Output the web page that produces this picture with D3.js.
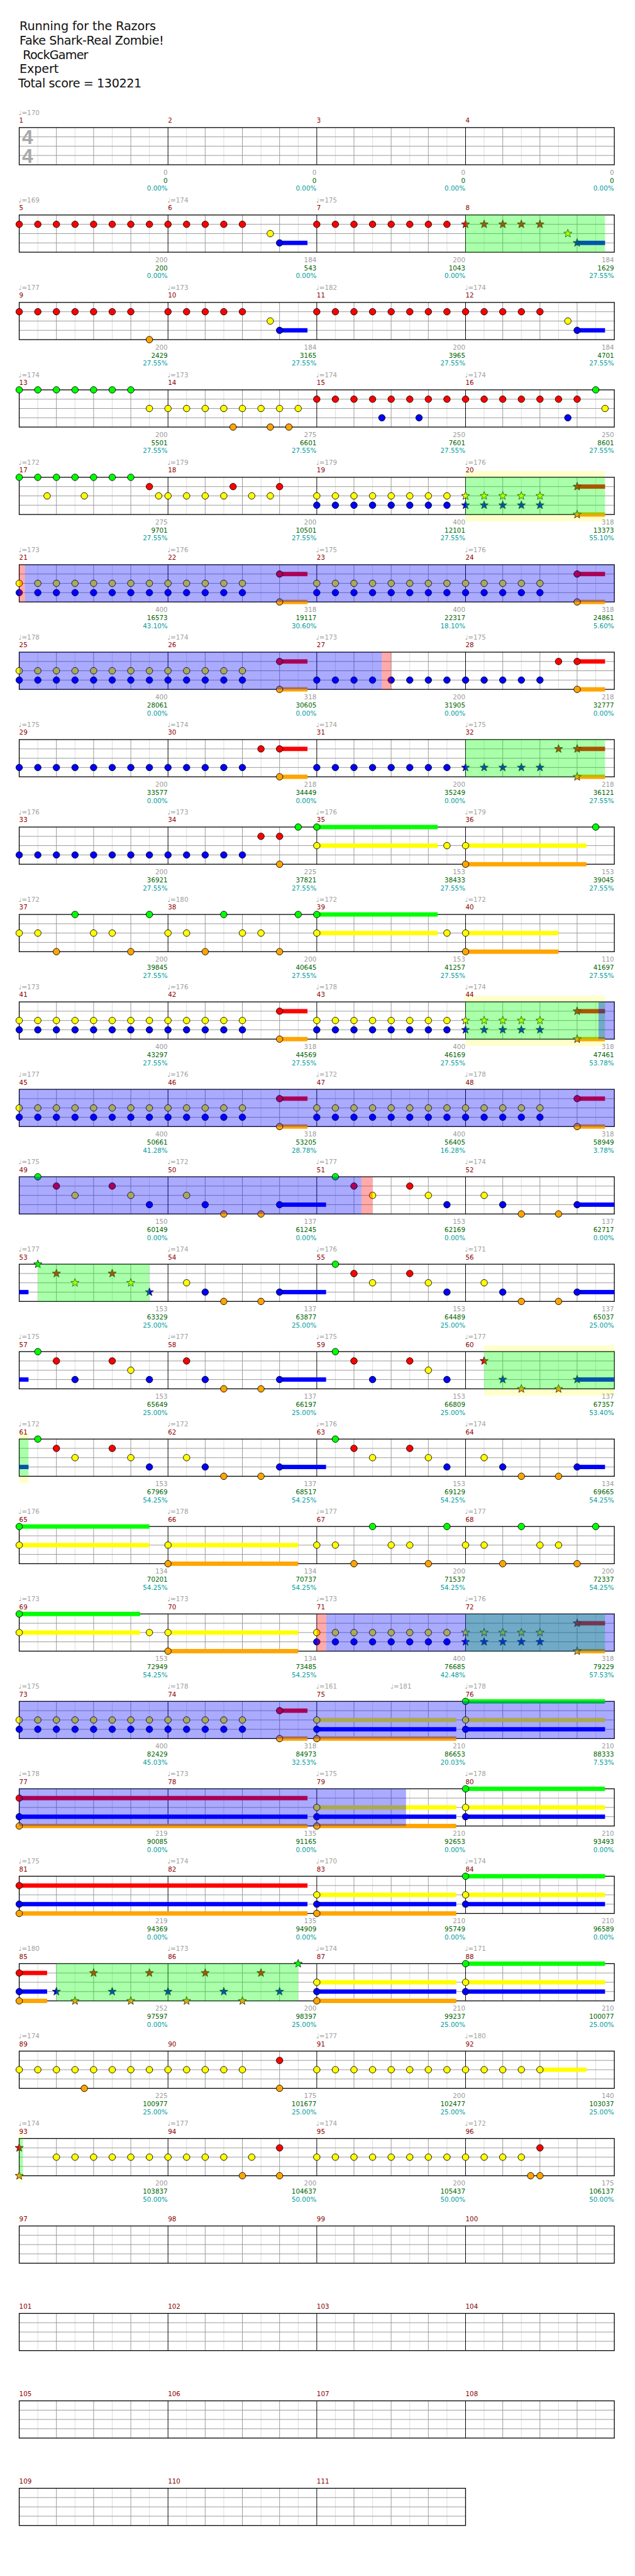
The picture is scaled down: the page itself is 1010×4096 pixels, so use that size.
<!DOCTYPE html>
<html><head><meta charset="utf-8">
<script src="https://cdn.jsdelivr.net/npm/d3@7"></script>
<style>body{margin:0;background:#fff} text{white-space:pre}</style>
</head><body><svg id="c"></svg>
<script>
const titleLines = ["Running for the Razors", "Fake Shark-Real Zombie!", " RockGamer", "Expert", "Total score = 130221"];
const titleWidths = [220, 233, 111, 63, 199];
const timeSig = ["4", "4"];

const tempos = [170,null,null,null, 169,174,175,null, 177,173,182,174, 174,173,174,174,
  172,179,179,176, 173,176,175,176, 178,174,173,175, 175,174,174,175, 176,173,176,179,
  172,180,172,172, 173,176,178,174, 177,176,172,178, 175,172,177,174, 177,174,176,171,
  175,177,175,177, 172,172,176,174, 176,178,177,177, 173,173,173,176, 175,178,161,178,
  178,173,175,178, 175,174,170,174, 180,173,174,171, 174,null,177,180, 174,177,174,172,
  null,null,null,null, null,null,null,null, null,null,null,null, null,null,null];
const extraTempos = [[75, 4, 181]];

const measureScores = [0,0,0,0, 200,184,200,184, 200,184,200,184, 200,275,250,250,
  275,200,400,318, 400,318,400,318, 400,318,200,218, 200,218,200,218, 200,225,153,153,
  200,200,153,110, 400,318,400,318, 400,318,400,318, 150,137,153,137, 153,137,153,137,
  153,137,153,137, 153,137,153,134, 134,134,200,200, 153,134,400,318, 400,318,210,210,
  219,135,210,210, 219,135,210,210, 252,200,210,210, 225,175,200,140, 200,200,200,175,
  "","","","", "","","","", "","","","", "","",""];
const totalScores = [0,0,0,0, 200,543,1043,1629, 2429,3165,3965,4701, 5501,6601,7601,8601,
  9701,10501,12101,13373, 16573,19117,22317,24861, 28061,30605,31905,32777, 33577,34449,35249,36121,
  36921,37821,38433,39045, 39845,40645,41257,41697, 43297,44569,46169,47461, 50661,53205,56405,58949,
  60149,61245,62169,62717, 63329,63877,64489,65037, 65649,66197,66809,67357, 67969,68517,69129,69665,
  70201,70737,71537,72337, 72949,73485,76685,79229, 82429,84973,86653,88333, 90085,91165,92653,93493,
  94369,94909,95749,96589, 97597,98397,99237,100077, 100977,101677,102477,103037, 103837,104637,105437,106137,
  "","","","", "","","","", "","","","", "","",""];
const percents = ["0.00","0.00","0.00","0.00", "0.00","0.00","0.00","27.55", "27.55","27.55","27.55","27.55",
  "27.55","27.55","27.55","27.55", "27.55","27.55","27.55","55.10", "43.10","30.60","18.10","5.60",
  "0.00","0.00","0.00","0.00", "0.00","0.00","0.00","27.55", "27.55","27.55","27.55","27.55",
  "27.55","27.55","27.55","27.55", "27.55","27.55","27.55","53.78", "41.28","28.78","16.28","3.78",
  "0.00","0.00","0.00","0.00", "25.00","25.00","25.00","25.00", "25.00","25.00","25.00","53.40",
  "54.25","54.25","54.25","54.25", "54.25","54.25","54.25","54.25", "54.25","54.25","42.48","57.53",
  "45.03","32.53","20.03","7.53", "0.00","0.00","0.00","0.00", "0.00","0.00","0.00","0.00",
  "0.00","25.00","25.00","25.00", "25.00","25.00","25.00","25.00", "50.00","50.00","50.00","50.00",
  "","","","", "","","","", "","","","", "","",""];

// notes per measure: "position(eighths):lanes[:sustain length in eighths]"
const chart = [
  "", "", "", "",
  "0:R 1:R 2:R 3:R 4:R 5:R 6:R 7:R", "0:R 1:R 2:R 3:R 4:R 5.5:Y 6:B:1.5",
  "0:R 1:R 2:R 3:R 4:R 5:R 6:R 7:R", "0:R 1:R 2:R 3:R 4:R 5.5:Y 6:B:1.5",
  "0:R 1:R 2:R 3:R 4:R 5:R 6:R 7:O", "0:R 1:R 2:R 3:R 4:R 5.5:Y 6:B:1.5",
  "0:R 1:R 2:R 3:R 4:R 5:R 6:R 7:R", "0:R 1:R 2:R 3:R 4:R 5.5:Y 6:B:1.5",
  "0:G 1:G 2:G 3:G 4:G 5:G 6:G 7:Y", "0:Y 1:Y 2:Y 3:Y 3.5:O 4:Y 5:Y 5.5:O 6:Y 6.5:O 7:Y",
  "0:R 1:R 2:R 3:R 3.5:B 4:R 5:R 5.5:B 6:R 7:R", "0:R 1:R 2:R 3:R 4:R 5:R 5.5:B 6:R 7:G 7.5:Y",
  "0:G 1:G 1.5:Y 2:G 3:G 3.5:Y 4:G 5:G 6:G 7:R 7.5:Y", "0:Y 1:Y 2:Y 3:Y 3.5:R 4.5:Y 5.5:Y 6:R",
  "0:YB 1:YB 2:YB 3:YB 4:YB 5:YB 6:YB 7:YB", "0:YB 1:YB 2:YB 3:YB 4:YB 6:RO:1.5",
  "0:YB 1:YB 2:YB 3:YB 4:YB 5:YB 6:YB 7:YB", "0:YB 1:YB 2:YB 3:YB 4:YB 6:RO:1.5",
  "0:YB 1:YB 2:YB 3:YB 4:YB 5:YB 6:YB 7:YB", "0:YB 1:YB 2:YB 3:YB 4:YB 6:RO:1.5",
  "0:YB 1:YB 2:YB 3:YB 4:YB 5:YB 6:YB 7:YB", "0:YB 1:YB 2:YB 3:YB 4:YB 6:RO:1.5",
  "0:B 1:B 2:B 3:B 4:B 5:B 6:B 7:B", "0:B 1:B 2:B 3:B 4:B 5:R 6:RO:1.5",
  "0:B 1:B 2:B 3:B 4:B 5:B 6:B 7:B", "0:B 1:B 2:B 3:B 4:B 5:R 6:RO:1.5",
  "0:B 1:B 2:B 3:B 4:B 5:B 6:B 7:B", "0:B 1:B 2:B 3:B 4:B 5:R 6:RO:1.5",
  "0:B 1:B 2:B 3:B 4:B 5:B 6:B 7:B", "0:B 1:B 2:B 3:B 4:B 5:R 6:RO 7:G",
  "0:GY:6.5 7:Y", "0:YO:6.5 7:G",
  "0:Y 1:Y 2:O 3:G 4:Y 5:Y 6:O 7:G", "0:Y 1:Y 2:O 3:G 4:Y 5:Y 6:O 7:G",
  "0:GY:6.5 7:Y", "0:YO:5",
  "0:YB 1:YB 2:YB 3:YB 4:YB 5:YB 6:YB 7:YB", "0:YB 1:YB 2:YB 3:YB 4:YB 6:RO:1.5",
  "0:YB 1:YB 2:YB 3:YB 4:YB 5:YB 6:YB 7:YB", "0:YB 1:YB 2:YB 3:YB 4:YB 6:RO:1.5",
  "0:YB 1:YB 2:YB 3:YB 4:YB 5:YB 6:YB 7:YB", "0:YB 1:YB 2:YB 3:YB 4:YB 6:RO:1.5",
  "0:YB 1:YB 2:YB 3:YB 4:YB 5:YB 6:YB 7:YB", "0:YB 1:YB 2:YB 3:YB 4:YB 6:RO:1.5",
  "1:G 2:R 3:Y 5:R 6:Y 7:B", "1:Y 2:B 3:O 5:O 6:B:2.5",
  "1:G 2:R 3:Y 5:R 6:Y 7:B", "1:Y 2:B 3:O 5:O 6:B:2.5",
  "1:G 2:R 3:Y 5:R 6:Y 7:B", "1:Y 2:B 3:O 5:O 6:B:2.5",
  "1:G 2:R 3:Y 5:R 6:Y 7:B", "1:Y 2:B 3:O 5:O 6:B:2.5",
  "1:G 2:R 3:B 5:R 6:Y 7:B", "1:R 2:B 3:O 5:O 6:B:2.5",
  "1:G 2:R 3:B 5:R 6:Y 7:B", "1:R 2:B 3:O 5:O 6:B:2.5",
  "1:G 2:R 3:Y 5:R 6:Y 7:B", "1:Y 2:B 3:O 5:O 6:B:2.5",
  "1:G 2:R 3:Y 5:R 6:Y 7:B", "1:Y 2:B 3:O 5:O 6:B:1.5",
  "0:GY:7", "0:YO:7",
  "0:Y 1:Y 2:O 3:G 4:Y 5:Y 6:O 7:G", "0:Y 1:Y 2:O 3:G 4:Y 5:Y 6:O 7:G",
  "0:GY:6.5 7:Y", "0:YO:7",
  "0:YB 1:YB 2:YB 3:YB 4:YB 5:YB 6:YB 7:YB", "0:YB 1:YB 2:YB 3:YB 4:YB 6:RO:1.5",
  "0:YB 1:YB 2:YB 3:YB 4:YB 5:YB 6:YB 7:YB", "0:YB 1:YB 2:YB 3:YB 4:YB 6:RO:1.5",
  "0:YBO:7.5", "0:GYB:7.5",
  "0:RBO:15.5", "",
  "0:YBO:7.5", "0:GYB:7.5",
  "0:RBO:15.5", "",
  "0:YBO:7.5", "0:GYB:7.5",
  "0:RBO:1.5 2:B 3:O 4:R 5:B 6:O 7:R", "0:B 1:O 2:R 3:B 4:O 5:R 6:B 7:G",
  "0:YBO:7.5", "0:GYB:7.5",
  "0:Y 1:Y 2:Y 3:Y 3.5:O 4:Y 5:Y 6:Y 7:Y", "0:Y 1:Y 2:Y 3:Y 4:Y 6:RO",
  "0:Y 1:Y 2:Y 3:Y 4:Y 5:Y 6:Y 7:Y", "0:Y 1:Y 2:Y 3:Y 4:Y:2.5",
  "0:RO 2:Y 3:Y 4:Y 5:Y 6:Y 7:Y", "0:Y 1:Y 2:Y 3:Y 4:O 4.5:Y 6:RO",
  "0:Y 1:Y 2:Y 3:Y 4:Y 5:Y 6:Y 7:Y", "0:Y 1:Y 2:Y 3:Y 3.5:O 4:RO",
  "", "", "", "", "", "", "", "", "", "", "", "", "", "", ""
];

// [startMeasure, startPos, endMeasure, endPos]
const starPhrases = [[8,0,8,7.5],[20,0,20,7.5],[32,0,32,7.5],[44,0,44,7.5],[53,1,53,7],
  [60,1,61,0.5],[72,0,72,7.5],[85,2,86,7],[93,0,93,0.2]];
const glowZones = [[20,0,20,7.5],[44,0,44,7.5],[60,1,61,0.5],[93,0,93,0.2]];
const activations = [[21,0.3,27,3.5],[44,7.15,51,2.4],[71,0.5,79,4.8]];
const redZones = [[21,0,21,0.3],[27,3.5,27,4],[51,2.4,51,3],[71,0,71,0.5]];

const laneColors = {G:"#00ff00", R:"#ff0000", Y:"#ffff00", B:"#0000ff", O:"#ffa500"};
const nMeasures = chart.length;
const nRows = Math.ceil(nMeasures / 4);

const svg = d3.select("#c").attr("width", 1010).attr("height", 4096);
const root = svg.append("g").attr("transform", "scale(0.986)");

const rowTop = d3.scaleLinear().domain([0, 1]).range([205.7, 346.7]);
const xIn = d3.scaleLinear().domain([0, 32]).range([31, 991]);
const laneY = d3.scalePoint().domain(["G","R","Y","B","O"]).range([0, 60]);

const gpos = (m, p) => (m - 1) * 8 + p;
function rowMeasures(r) { return Math.min(4, nMeasures - 4 * r); }
function segments(g0, g1) {
  const out = [];
  for (let r = Math.floor(g0 / 32); r * 32 < g1 && r < nRows; r++) {
    const lim = rowMeasures(r) * 8;
    const a = Math.max(0, g0 - r * 32), b = Math.min(lim, g1 - r * 32);
    if (b > a) out.push({r, a, b});
  }
  return out;
}

const L = {};
["glow","bg","grid","sus","notes","over","text"].forEach(k => L[k] = root.append("g"));

// title
L.text.selectAll("text.title").data(titleLines).join("text")
  .attr("x", (d, i) => i === 4 ? 29.5 : 31.5)
  .attr("y", (d, i) => 49 + i * 23)
  .attr("textLength", (d, i) => titleWidths[i])
  .attr("font-family", "DejaVu Sans").attr("font-size", 19.5).attr("fill", "#111")
  .text(d => d);

// glow zones
glowZones.forEach(z => segments(gpos(z[0], z[1]), gpos(z[2], z[3])).forEach(s => {
  L.glow.append("rect").attr("x", xIn(s.a)).attr("width", xIn(s.b) - xIn(s.a))
    .attr("y", rowTop(s.r) - 10).attr("height", 81).attr("fill", "rgba(255,255,0,0.2)");
}));

// staff grids
for (let r = 0; r < nRows; r++) {
  const n = rowMeasures(r), top = rowTop(r), w = n * 8;
  L.bg.append("rect").attr("x", xIn(0)).attr("y", top).attr("width", xIn(w) - xIn(0)).attr("height", 60).attr("fill", "#fff");
  const ticks = d3.range(1, w);
  L.grid.selectAll(null).data(ticks.filter(k => k % 2 === 1)).join("line")
    .attr("x1", k => xIn(k)).attr("x2", k => xIn(k)).attr("y1", top).attr("y2", top + 60)
    .attr("stroke", "#dcdcdc").attr("stroke-width", 1);
  L.grid.selectAll(null).data(ticks.filter(k => k % 2 === 0 && k % 8 !== 0)).join("line")
    .attr("x1", k => xIn(k)).attr("x2", k => xIn(k)).attr("y1", top).attr("y2", top + 60)
    .attr("stroke", "#9a9a9a").attr("stroke-width", 1);
  L.grid.selectAll(null).data(["R","Y","B"]).join("line")
    .attr("x1", xIn(0)).attr("x2", xIn(w)).attr("y1", d => top + laneY(d)).attr("y2", d => top + laneY(d))
    .attr("stroke", "#9a9a9a").attr("stroke-width", 1);
  L.grid.selectAll(null).data(ticks.filter(k => k % 8 === 0)).join("line")
    .attr("x1", k => xIn(k)).attr("x2", k => xIn(k)).attr("y1", top).attr("y2", top + 60)
    .attr("stroke", "#000").attr("stroke-width", 1);
  L.grid.append("rect").attr("x", xIn(0)).attr("y", top).attr("width", xIn(w) - xIn(0)).attr("height", 60)
    .attr("fill", "none").attr("stroke", "#000").attr("stroke-width", 1.3);
}

// time signature
L.grid.selectAll("text.ts").data(timeSig).join("text")
  .attr("x", 35.5).attr("y", (d, i) => rowTop(0) + 26.6 + i * 30)
  .attr("font-family", "Liberation Sans").attr("font-weight", "bold").attr("font-size", 32)
  .attr("fill", "#a8a8a8").text(d => d);

// notes
const notes = [];
chart.forEach((str, i) => {
  str.split(" ").filter(t => t).forEach(tok => {
    const [p, lanes, sus] = tok.split(":");
    for (const ln of lanes) notes.push({g: gpos(i + 1, +p), lane: ln, sus: sus ? +sus : 0});
  });
});
const isStar = g => starPhrases.some(z => g >= gpos(z[0], z[1]) - 0.01 && g <= gpos(z[2], z[3]) + 0.01);

notes.filter(d => d.sus > 0).forEach(d => {
  segments(d.g, d.g + d.sus).forEach(s => {
    L.sus.append("rect").attr("x", xIn(s.a)).attr("width", xIn(s.b) - xIn(s.a))
      .attr("y", rowTop(s.r) + laneY(d.lane) - 3.5).attr("height", 7).attr("fill", laneColors[d.lane]);
  });
});

function starPath(cx, cy, R, rIn) {
  const p = d3.path();
  for (let k = 0; k < 10; k++) {
    const ang = -Math.PI / 2 + k * Math.PI / 5, rad = k % 2 ? rIn : R;
    const x = cx + rad * Math.cos(ang), y = cy + rad * Math.sin(ang);
    k ? p.lineTo(x, y) : p.moveTo(x, y);
  }
  p.closePath();
  return p.toString();
}

notes.forEach(d => {
  const r = Math.floor(d.g / 32), cx = xIn(d.g - r * 32), cy = rowTop(r) + laneY(d.lane);
  if (isStar(d.g)) {
    L.notes.append("path").attr("d", starPath(cx, cy, 7, 2.9)).attr("fill", laneColors[d.lane])
      .attr("stroke", "#111").attr("stroke-width", 0.8);
  } else {
    L.notes.append("circle").attr("cx", cx).attr("cy", cy).attr("r", 5.3).attr("fill", laneColors[d.lane])
      .attr("stroke", "#000").attr("stroke-width", 0.9);
  }
});

// overlays
function overlay(list, color) {
  list.forEach(z => segments(gpos(z[0], z[1]), gpos(z[2], z[3])).forEach(s => {
    L.over.append("rect").attr("x", xIn(s.a)).attr("width", xIn(s.b) - xIn(s.a))
      .attr("y", rowTop(s.r)).attr("height", 60).attr("fill", color);
  }));
}
overlay(starPhrases, "rgba(0,255,0,0.333)");
overlay(activations, "rgba(0,0,255,0.333)");
overlay(redZones, "rgba(255,0,0,0.333)");

// measure texts
const fs = 10.5, ff = "DejaVu Sans";
chart.forEach((_, i) => {
  const r = Math.floor(i / 4), c = i % 4, top = rowTop(r);
  const xs = xIn(c * 8), xe = xIn(c * 8 + 8) - 0.5;
  if (tempos[i] != null) L.text.append("text").attr("x", xs - 1).attr("y", top - 20.5)
    .attr("font-family", ff).attr("font-size", fs).attr("fill", "#a0a0a0").text("\u2669=" + tempos[i]);
  L.text.append("text").attr("x", xs).attr("y", top - 7.7).attr("font-family", ff).attr("font-size", fs)
    .attr("fill", "#8b0000").text(i + 1);
  const lines = [[measureScores[i], "#9a9a9a", 76], [totalScores[i], "#006400", 89],
                 [percents[i] === "" ? "" : percents[i] + "%", "#009c9c", 102]];
  lines.forEach(([t, col, dy]) => L.text.append("text").attr("x", xe).attr("y", top + dy)
    .attr("text-anchor", "end").attr("font-family", ff).attr("font-size", fs).attr("fill", col).text(t));
});
extraTempos.forEach(([m, p, t]) => {
  const i = m - 1, r = Math.floor(i / 4), c = i % 4;
  L.text.append("text").attr("x", xIn(c * 8 + p) - 1).attr("y", rowTop(r) - 20.5)
    .attr("font-family", ff).attr("font-size", fs).attr("fill", "#a0a0a0").text("\u2669=" + t);
});
</script></body></html>
